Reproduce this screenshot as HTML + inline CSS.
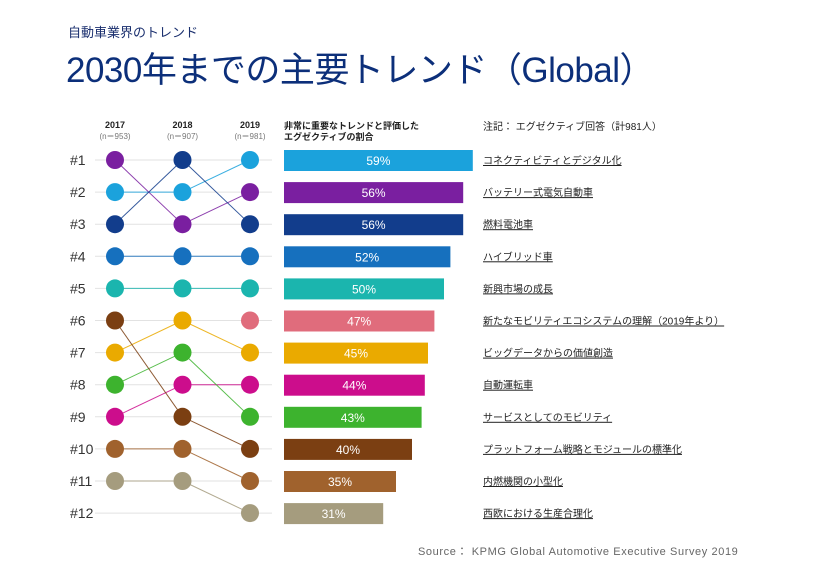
<!DOCTYPE html>
<html><head><meta charset="utf-8"><style>
body{margin:0;width:840px;height:565px;background:#fff;font-family:"Liberation Sans","Noto Sans CJK JP",sans-serif;overflow:hidden;position:relative}
.t{position:absolute;white-space:nowrap}
</style></head><body>
<div class="t" style="left:68px;top:22px;font-size:13px;color:#1a2f6e">自動車業界のトレンド</div>
<div class="t" style="left:66px;top:42px;font-size:35px;color:#0c2f7a;letter-spacing:-0.5px">2030年までの主要トレンド（Global）</div>
<svg id="chart" width="840" height="565" style="position:absolute;left:0;top:0"></svg>
<div class="t" style="left:418px;top:543px;font-size:11px;color:#666;letter-spacing:0.6px">Source： KPMG Global Automotive Executive Survey 2019</div>
<script>
const labels=["コネクティビティとデジタル化","バッテリー式電気自動車","燃料電池車","ハイブリッド車","新興市場の成長","新たなモビリティエコシステムの理解（2019年より）","ビッグデータからの価値創造","自動運転車","サービスとしてのモビリティ","プラットフォーム戦略とモジュールの標準化","内燃機関の小型化","西欧における生産合理化"];
const pct=[59,56,56,52,50,47,45,44,43,40,35,31];
const rank2017=[2,1,3,4,5,null,7,9,8,6,10,11];
const rank2018=[2,3,1,4,5,null,6,8,7,9,10,11];
const rank2019=[1,2,3,4,5,6,7,8,9,10,11,12];
const colors=["#1ba2dc","#7a1fa0","#123d8c","#1670be","#1bb5ae","#e06c7c","#eaaa00","#cc0d8c","#3db32e","#7b3f12","#a0622d","#a59c7e"];
const years=["2017","2018","2019"];
const ns=["(n＝953)","(n＝907)","(n＝981)"];
const rankLabels=["#1","#2","#3","#4","#5","#6","#7","#8","#9","#10","#11","#12"];
const S="http://www.w3.org/2000/svg",svg=document.getElementById('chart');
const yR=r=>160+(r-1)*32.1;
const xC=i=>115+i*67.5;
const xB=p=>p*3.2;
function mk(t,a,p){const e=document.createElementNS(S,t);for(const k in a)e.setAttribute(k,a[k]);(p||svg).appendChild(e);return e;}
function tx(s,a){const e=mk('text',a);e.textContent=s;return e;}
years.forEach((y,i)=>{
const a=tx(y,{x:xC(i),y:128,'text-anchor':'middle','font-size':9,'font-weight':'bold',fill:'#222'});

const b=tx(ns[i],{x:xC(i),y:139,'text-anchor':'middle','font-size':8,fill:'#777'});

});
const h1=tx("非常に重要なトレンドと評価した",{x:284,y:129,'font-size':9,'font-weight':'bold',fill:'#222'});

tx("エグゼクティブの割合",{x:284,y:140,'font-size':9,'font-weight':'bold',fill:'#222'});
const nt=tx("注記： エグゼクティブ回答（計981人）",{x:483,y:130,'font-size':10,fill:'#222'});

rankLabels.forEach((l,i)=>{
const y=yR(i+1);
const g=mk('line',{x1:95,x2:272,y1:y,y2:y,stroke:'#e2e2e2','stroke-width':1});

const t=tx(l,{x:70,y:y+5,'font-size':14,fill:'#333'});

});
const ranks=[rank2017,rank2018,rank2019];
labels.forEach((lab,i)=>{
for(let c=0;c<2;c++){const r0=ranks[c][i],r1=ranks[c+1][i];if(r0&&r1){
const ln=mk('line',{x1:xC(c),y1:yR(r0),x2:xC(c+1),y2:yR(r1),stroke:colors[i],'stroke-width':1,opacity:0.85});
}}
});
labels.forEach((lab,i)=>{
ranks.forEach((rk,c)=>{if(rk[i]){
const ci=mk('circle',{cx:xC(c),cy:yR(rk[i]),r:9,fill:colors[i]});
}});
const y=yR(rank2019[i]);
const b=mk('rect',{x:284,y:y-10,width:xB(pct[i]),height:21,fill:colors[i]});

const v=tx(pct[i]+'%',{x:284+xB(pct[i])/2,y:y+5,'text-anchor':'middle','font-size':12,fill:'#fff'});

const t=tx(lab,{x:483,y:y+4,'font-size':10,fill:'#222','text-decoration':'underline'});

});
</script>
</body></html>
